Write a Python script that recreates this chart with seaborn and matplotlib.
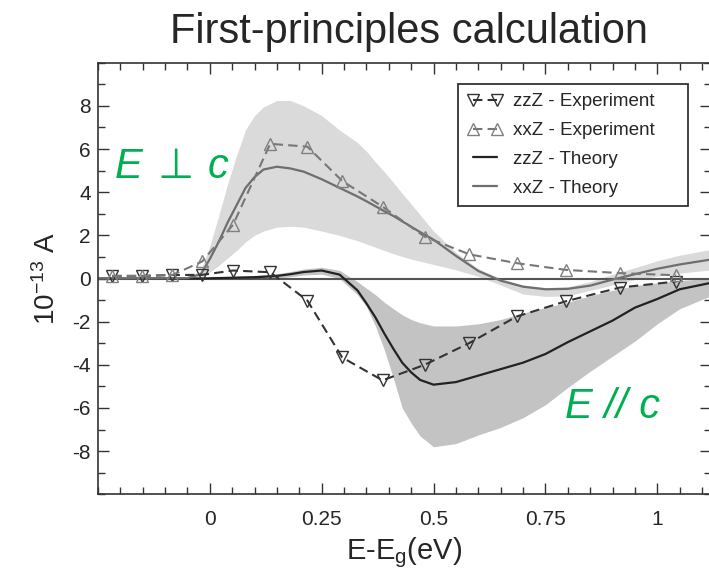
import matplotlib
matplotlib.use('Agg')
import matplotlib.pyplot as plt
from matplotlib.ticker import MultipleLocator
import pandas as pd
import seaborn as sns

# experiment points
x_exp = [-0.218, -0.151, -0.084, -0.017, 0.052, 0.135, 0.218, 0.296, 0.386, 0.480, 0.580, 0.686, 0.795, 0.916, 1.042]
zzz_exp = [0.12, 0.12, 0.16, 0.17, 0.37, 0.29, -1.02, -3.66, -4.72, -4.0, -2.99, -1.76, -1.06, -0.42, -0.14]
xxz_exp = [0.12, 0.12, 0.16, 0.79, 2.49, 6.24, 6.11, 4.52, 3.33, 1.94, 1.12, 0.71, 0.40, 0.25, 0.15]

# theory curves + shaded bands
x_th = [-0.25, -0.15, -0.05, -0.02, 0.0, 0.02, 0.04, 0.06, 0.08, 0.10, 0.12, 0.15, 0.18, 0.21,
        0.25, 0.29, 0.33, 0.35, 0.37, 0.39, 0.41, 0.43, 0.45, 0.47, 0.50, 0.55, 0.60, 0.65,
        0.70, 0.75, 0.80, 0.85, 0.90, 0.95, 1.00, 1.05, 1.12]
xxz_th = [0.0, 0.0, 0.02, 0.2, 0.9, 1.7, 2.6, 3.4, 4.2, 4.7, 5.05, 5.18, 5.1, 4.95,
          4.6, 4.2, 3.8, 3.58, 3.35, 3.12, 2.9, 2.65, 2.4, 2.15, 1.8, 1.05, 0.35, -0.1,
          -0.38, -0.5, -0.48, -0.33, -0.05, 0.2, 0.45, 0.65, 0.88]
xxz_hi = [0.02, 0.02, 0.05, 0.35, 1.5, 2.9, 4.4, 5.7, 6.9, 7.55, 7.95, 8.25, 8.25, 8.0,
          7.55, 6.88, 6.3, 5.9, 5.4, 4.95, 4.45, 3.95, 3.45, 2.95, 2.2, 1.2, 0.45, 0.0,
          -0.3, -0.42, -0.38, -0.15, 0.2, 0.5, 0.82, 1.08, 1.35]
xxz_lo = [-0.02, -0.02, 0.0, 0.05, 0.3, 0.6, 0.95, 1.3, 1.7, 2.0, 2.2, 2.38, 2.42, 2.38,
          2.2, 2.0, 1.75, 1.6, 1.45, 1.3, 1.15, 1.02, 0.9, 0.8, 0.65, 0.4, 0.1, -0.3,
          -0.72, -0.83, -0.8, -0.55, -0.3, -0.05, 0.1, 0.25, 0.4]
zzz_th = [0.0, 0.0, 0.0, 0.0, 0.01, 0.02, 0.03, 0.04, 0.05, 0.06, 0.08, 0.12, 0.2, 0.3,
          0.37, 0.18, -0.55, -1.15, -1.8, -2.55, -3.25, -3.9, -4.35, -4.7, -4.92, -4.8, -4.5, -4.2,
          -3.9, -3.5, -2.95, -2.45, -1.95, -1.35, -0.95, -0.5, -0.2]
zzz_hi = [0.02, 0.02, 0.02, 0.02, 0.05, 0.06, 0.08, 0.1, 0.12, 0.14, 0.17, 0.22, 0.32, 0.44,
          0.52, 0.38, -0.15, -0.45, -0.75, -1.1, -1.4, -1.68, -1.9, -2.05, -2.2, -2.2, -2.1, -1.9,
          -1.6, -1.35, -1.1, -0.8, -0.55, -0.33, -0.2, -0.1, 0.02]
zzz_lo = [-0.02, -0.02, -0.02, -0.02, -0.03, -0.02, -0.02, -0.02, -0.02, -0.02, -0.01, 0.02, 0.08, 0.16,
          0.2, 0.0, -0.75, -1.3, -2.2, -3.3, -4.6, -6.0, -6.7, -7.3, -7.8, -7.65, -7.25, -6.9,
          -6.45, -5.85, -5.05, -4.3, -3.6, -2.9, -2.1, -1.4, -0.8]

x_ticks = [0, 0.25, 0.5, 0.75, 1]
x_tick_labels = ['0', '0.25', '0.5', '0.75', '1']
y_ticks = [-8, -6, -4, -2, 0, 2, 4, 6, 8]

exp = pd.DataFrame({'x': x_exp, 'zzZ': zzz_exp, 'xxZ': xxz_exp})
th = pd.DataFrame({'x': x_th, 'zzZ': zzz_th, 'xxZ': xxz_th})

sns.set_style('ticks')
plt.rcParams['font.family'] = ['Liberation Sans', 'DejaVu Sans']
plt.rcParams['mathtext.fontset'] = 'custom'
plt.rcParams['mathtext.rm'] = 'Liberation Sans'
plt.rcParams['mathtext.it'] = 'Liberation Sans:italic'
plt.rcParams['axes.unicode_minus'] = False

fig = plt.figure(figsize=(7.09, 5.70), dpi=100)
ax = fig.add_axes([97.9 / 709, 1 - 494.3 / 570, 613.1 / 709, 431.6 / 570])

ax.fill_between(th['x'], xxz_lo, xxz_hi, color='#dadada', lw=0)
ax.fill_between(th['x'], zzz_lo, zzz_hi, color='#c3c3c3', lw=0)
ax.axhline(0, color='#555555', lw=1.5)

sns.lineplot(data=th, x='x', y='zzZ', color='#222222', lw=1.6, label='zzZ - Theory', ax=ax)
sns.lineplot(data=th, x='x', y='xxZ', color='#6e6e6e', lw=1.6, label='xxZ - Theory', ax=ax)

dash = (0, (4.5, 2.5))
sns.lineplot(data=exp, x='x', y='zzZ', color='#333333', lw=1.5, linestyle=dash,
             marker='v', markersize=8.5, markerfacecolor='none', markeredgecolor='#333333',
             markeredgewidth=1, label='zzZ - Experiment', ax=ax)
sns.lineplot(data=exp, x='x', y='xxZ', color='#777777', lw=1.5, linestyle=dash,
             marker='^', markersize=8.5, markerfacecolor='none', markeredgecolor='#808080',
             markeredgewidth=1, label='xxZ - Experiment', ax=ax)

ax.set_xlim(-0.25, 1.12)
ax.set_ylim(-10, 10)
ax.set_xticks(x_ticks, x_tick_labels)
ax.set_yticks(y_ticks, [str(v) for v in y_ticks])
ax.xaxis.set_minor_locator(MultipleLocator(0.05))
ax.yaxis.set_minor_locator(MultipleLocator(1))
ax.tick_params(which='both', direction='in', top=True, right=True, color='#333333',
               labelsize=15, width=1)
ax.tick_params(axis='x', which='major', length=8, pad=11)
ax.tick_params(axis='y', which='major', length=8, pad=5)
ax.tick_params(which='minor', length=5)
for side in ['left', 'bottom', 'top', 'right']:
    ax.spines[side].set_color('#333333')
    ax.spines[side].set_linewidth(1.2)

ax.set_xlabel(r'E-E$_\mathregular{g}$(eV)', fontsize=21, labelpad=5)
ax.set_ylabel(r'$\mathregular{10^{-13}}$ A', fontsize=20, labelpad=8)

fig.text(0.577, 0.924, 'First-principles calculation', fontsize=30, ha='center', va='baseline')

green = '#00b050'
ax.text(-0.213, 4.65, 'E', fontsize=30, style='italic', color=green, va='baseline')
ax.text(-0.117, 4.65, '\u22a5', fontsize=30, color=green, va='baseline')
ax.text(-0.005, 4.65, 'c', fontsize=30, style='italic', color=green, va='baseline')
ax.text(0.793, -6.45, 'E // c', fontsize=30, style='italic', color=green, va='baseline')

handles, labels = ax.get_legend_handles_labels()
lookup = dict(zip(labels, handles))
order = ['zzZ - Experiment', 'xxZ - Experiment', 'zzZ - Theory', 'xxZ - Theory']
leg = ax.legend([lookup[k] for k in order], order, numpoints=2, loc='upper left',
                bbox_to_anchor=(458 / 709, 1 - 205 / 570, 230 / 709, 121 / 570),
                bbox_transform=fig.transFigure, mode='expand', fancybox=False,
                fontsize=13.5, handlelength=1.9, handletextpad=0.55, labelspacing=0.62,
                borderpad=0.5, borderaxespad=0)
leg.get_frame().set_edgecolor('#333333')
leg.get_frame().set_linewidth(1.3)
leg.get_frame().set_alpha(1)

fig.savefig('out.png', dpi=100)
